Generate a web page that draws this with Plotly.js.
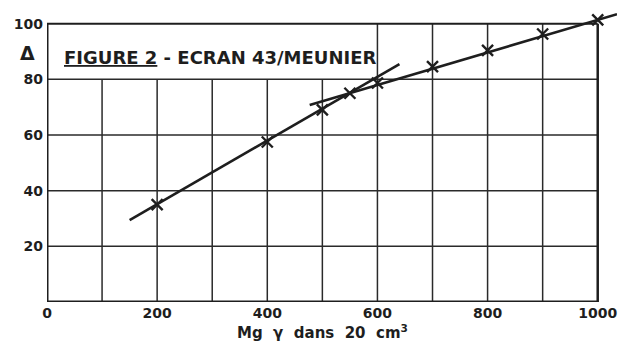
<!DOCTYPE html>
<html>
<head>
<meta charset="utf-8">
<script src="https://cdn.plot.ly/plotly-3.0.1.min.js"></script>
<style>
html,body{margin:0;padding:0;background:#fff;}
#chart{width:618px;height:343px;}
</style>
</head>
<body>
<div id="chart"></div>
<script>
// Measured points (crosses)
var pointX = [200, 400, 500, 550, 600, 700, 800, 900, 1000];
var pointY = [35, 57.5, 69, 75, 78.7, 84.6, 90.4, 96.3, 101.4];
// Fitted straight lines
var line1X = [150, 640];
var line1Y = [29.4, 85.5];
var line2X = [477, 1035];
var line2Y = [70.8, 103.4];
// Axis ticks / grid
var xTicks = [0, 200, 400, 600, 800, 1000];
var yTicks = [20, 40, 60, 80, 100];
var gridX = [100, 200, 300, 400, 500, 600, 700, 800, 900];
var gridY = [20, 40, 60, 80];
var titleText = "<u>FIGURE 2</u> - ECRAN 43/MEUNIER";
var xTitle = "Mg&nbsp; \u03B3 &nbsp;dans&nbsp; 20&nbsp; cm<sup>3</sup>";

var ink = "#1e1e1e";
var shapes = [];
gridX.forEach(function (x) {
  shapes.push({type: "line", xref: "x", yref: "y", x0: x, x1: x, y0: 0, y1: x < 600 ? 80 : 100,
    line: {color: "#2a2a2a", width: 1.5}, layer: "below"});
});
gridY.forEach(function (y) {
  shapes.push({type: "line", xref: "x", yref: "y", x0: -6, x1: 1000, y0: y, y1: y,
    line: {color: "#2a2a2a", width: 1.5}, layer: "below"});
});
// frame
shapes.push({type: "line", xref: "x", yref: "y", x0: 0, x1: 1000, y0: 100, y1: 100, line: {color: ink, width: 2}, layer: "below"});
shapes.push({type: "line", xref: "x", yref: "y", x0: 1000, x1: 1000, y0: 0, y1: 100, line: {color: ink, width: 2.5}, layer: "below"});
shapes.push({type: "line", xref: "x", yref: "y", x0: 0, x1: 1000, y0: 0, y1: 0, line: {color: ink, width: 3}, layer: "below"});
shapes.push({type: "line", xref: "x", yref: "y", x0: 0, x1: 0, y0: 0, y1: 100, line: {color: ink, width: 3}, layer: "below"});

var traces = [
  {x: line1X, y: line1Y, mode: "lines", line: {color: ink, width: 2.6}, hoverinfo: "skip"},
  {x: line2X, y: line2Y, mode: "lines", line: {color: ink, width: 2.6}, hoverinfo: "skip"},
  {x: pointX, y: pointY, mode: "markers", cliponaxis: false,
   marker: {symbol: "x-thin", size: 11, line: {color: ink, width: 2.4}}}
];

var font = {family: "DejaVu Sans", size: 14, color: ink, weight: "bold"};
var layout = {
  width: 618, height: 343,
  margin: {l: 47, r: 1, t: 7, b: 41},
  paper_bgcolor: "#ffffff", plot_bgcolor: "#ffffff",
  showlegend: false,
  xaxis: {range: [0, 1035], showgrid: false, zeroline: false, showline: false,
    tickvals: xTicks, ticktext: xTicks.map(String), ticks: "", tickfont: font,
    ticklabelstandoff: 1},
  yaxis: {range: [0, 106], showgrid: false, zeroline: false, showline: false,
    tickvals: yTicks, ticktext: yTicks.map(String), ticks: "", tickfont: font,
    ticklabelstandoff: 3},
  shapes: shapes,
  annotations: [
    {text: titleText, xref: "x", yref: "y", x: 27, y: 88, xanchor: "left", yanchor: "middle",
     showarrow: false, font: {family: "DejaVu Sans", size: 18, color: ink, weight: "bold"}},
    {text: xTitle, xref: "x", yref: "paper", x: 500, y: 0, xanchor: "center", yanchor: "top",
     yshift: -18, showarrow: false, font: {family: "DejaVu Sans", size: 15, color: ink, weight: "bold"}},
    {text: "\u0394", xref: "paper", yref: "y", x: -0.035, y: 89.5, xanchor: "center", yanchor: "middle",
     showarrow: false, font: {family: "DejaVu Sans", size: 19, color: ink, weight: "bold"}}
  ]
};
Plotly.newPlot("chart", traces, layout, {staticPlot: true});
</script>
</body>
</html>
